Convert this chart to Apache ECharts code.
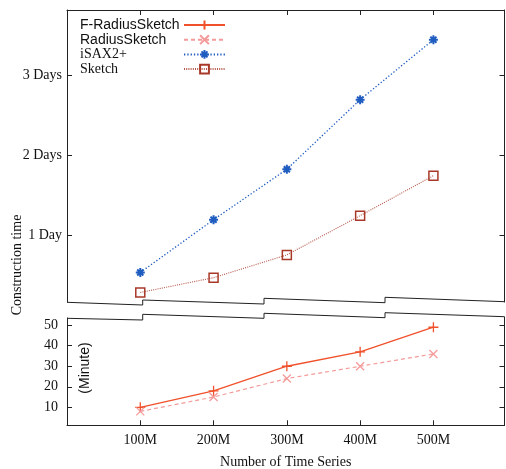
<!DOCTYPE html>
<html><head><meta charset="utf-8">
<script src="https://cdn.jsdelivr.net/npm/echarts@6/dist/echarts.min.js"></script>
<style>html,body{margin:0;padding:0;background:#fff}#c{width:506px;height:469px}</style>
</head><body><div id="c"></div>
<script>
// ---- data ----
const categories = [100, 200, 300, 400, 500]; // number of time series (millions)
const xTickLabels = ['100M', '200M', '300M', '400M', '500M'];
const fRadiusMinutes = [10, 18, 30, 37, 49];
const radiusMinutes = [8, 15, 24, 30, 36];
const isaxDays = [0.54, 1.2, 1.83, 2.7, 3.45];
const sketchDays = [0.29, 0.475, 0.76, 1.25, 1.75];
const dayTicks = [1, 2, 3];
const dayTickLabels = ['1 Day', '2 Days', '3 Days'];
const minuteTicks = [10, 20, 30, 40, 50];
const seriesNames = ['F-RadiusSketch', 'RadiusSketch', 'iSAX2+', 'Sketch'];

// ---- layout ----
const W = 506, H = 469;
const L = 67, RX = 504.5;
const topGrid = { top: 10, bottomY: 302 };
const botGrid = { top: 318, bottomY: 425.3 };
const SERIF = 'Liberation Serif', SANS = 'Liberation Sans';
const AX = '#222';

const pairs = (ys) => categories.map((c, i) => [c, ys[i]]);

const chart = echarts.init(document.getElementById('c'), null, { renderer: 'canvas' });

function yAx(grid, pos, min, max, ticks, labels, margin) {
  return {
    type: 'value', gridIndex: grid, position: pos, min: min, max: max,
    splitLine: { show: false },
    axisLine: { show: true, onZero: false, lineStyle: { color: AX, width: 1 } },
    axisTick: { show: true, inside: true, length: 5, customValues: ticks, lineStyle: { color: AX } },
    axisLabel: labels ? {
      show: true, customValues: ticks, margin: margin,
      fontFamily: SERIF, fontSize: 14, color: '#111',
      formatter: (v) => { const i = ticks.indexOf(v); return i >= 0 && labels[i] !== undefined ? labels[i] : String(v); }
    } : { show: false }
  };
}

const cRed = '#f0502a', cPink = '#f49a9a', cBlue = '#1f5cbf', cBrown = '#a83828';
const plusPath = 'path://M0,5L10,5M5,0L5,10';
const xPath = 'path://M0,0L10,10M10,0L0,10';
const starPath = 'path://M0,5L10,5M5,0L5,10M1.6,1.6L8.4,8.4M8.4,1.6L1.6,8.4';

const option = {
  animation: false,
  backgroundColor: '#fff',
  grid: [
    { left: L, right: W - RX, top: topGrid.top, height: topGrid.bottomY - topGrid.top, outerBoundsMode: 'none', containLabel: false },
    { left: L, right: W - RX, top: botGrid.top, height: botGrid.bottomY - botGrid.top, outerBoundsMode: 'none', containLabel: false }
  ],
  xAxis: [
    { type: 'value', gridIndex: 0, position: 'top', min: 0, max: 597,
      splitLine: { show: false },
      axisLine: { show: true, onZero: false, lineStyle: { color: AX } },
      axisTick: { show: true, inside: true, length: 5, customValues: categories, lineStyle: { color: AX } },
      axisLabel: { show: false } },
    { type: 'value', gridIndex: 1, position: 'bottom', min: 0, max: 597,
      splitLine: { show: false },
      axisLine: { show: true, onZero: false, lineStyle: { color: AX } },
      axisTick: { show: true, inside: true, length: 5, customValues: categories, lineStyle: { color: AX } },
      axisLabel: { show: true, customValues: categories, margin: 8, fontFamily: SERIF, fontSize: 14, color: '#111',
        formatter: (v) => { const i = categories.indexOf(v); return i >= 0 ? xTickLabels[i] : ''; } },
      name: 'Number of Time Series', nameLocation: 'middle', nameGap: 30,
      nameTextStyle: { fontFamily: SERIF, fontSize: 14, color: '#111' } }
  ],
  yAxis: [
    yAx(0, 'left', 0.171, 3.821, dayTicks, dayTickLabels, 5),
    yAx(0, 'right', 0.171, 3.821, dayTicks, null, 5),
    yAx(1, 'left', 1.23, 53.5, minuteTicks, minuteTicks.map(String), 9),
    yAx(1, 'right', 1.23, 53.5, minuteTicks, null, 9)
  ],
  legend: {
    orient: 'vertical', left: 80, top: 18, padding: 0, align: 'right',
    itemWidth: 41, itemHeight: 11, itemGap: 0.7,
    data: seriesNames,
    formatter: (n) => (seriesNames.indexOf(n) < 2 ? '{s|' + n + '}' : '{t|' + n + '}'),
    textStyle: {
      lineHeight: 14,
      rich: {
        s: { fontFamily: SANS, fontSize: 14, color: '#111', width: 99, lineHeight: 14, align: 'left' },
        t: { fontFamily: SERIF, fontSize: 14, color: '#111', width: 99, lineHeight: 14, align: 'left' }
      }
    }
  },
  graphic: [
    { type: 'polyline', silent: true, z: 100,
      shape: { points: [[L, 302.3], [142.7, 305], [142.7, 300], [264, 304], [264, 298.3], [385, 302.7], [385, 297.3], [RX, 301.7], [RX, 302]] },
      style: { stroke: AX, lineWidth: 1, fill: null } },
    { type: 'polyline', silent: true, z: 100,
      shape: { points: [[L, 318.3], [142.7, 320], [142.7, 314.3], [264, 318.3], [264, 313.3], [385, 317.7], [385, 312.7], [RX, 316.7], [RX, 318.5]] },
      style: { stroke: AX, lineWidth: 1, fill: null } },
    { type: 'text', silent: true, x: 17, y: 265, rotation: Math.PI / 2,
      style: { text: 'Construction time', font: '14px "Liberation Serif"', fill: '#111', align: 'center', verticalAlign: 'middle' } },
    { type: 'text', silent: true, x: 85, y: 368, rotation: Math.PI / 2,
      style: { text: '(Minute)', font: '14px "Liberation Sans"', fill: '#111', align: 'center', verticalAlign: 'middle' } }
  ],
  series: [
    { name: seriesNames[0], type: 'line', xAxisIndex: 1, yAxisIndex: 2, data: pairs(fRadiusMinutes),
      symbol: plusPath, symbolSize: 10,
      lineStyle: { color: cRed, width: 1.3, type: 'solid' },
      itemStyle: { color: 'rgba(0,0,0,0)', borderColor: cRed, borderWidth: 1.3 } },
    { name: seriesNames[1], type: 'line', xAxisIndex: 1, yAxisIndex: 2, data: pairs(radiusMinutes),
      symbol: xPath, symbolSize: 8,
      lineStyle: { color: cPink, width: 1.2, type: [4, 3] },
      itemStyle: { color: 'rgba(0,0,0,0)', borderColor: cPink, borderWidth: 1.3 } },
    { name: seriesNames[2], type: 'line', xAxisIndex: 0, yAxisIndex: 0, data: pairs(isaxDays),
      symbol: starPath, symbolSize: 9,
      lineStyle: { color: cBlue, width: 1.3, type: [1.3, 2] },
      itemStyle: { color: 'rgba(0,0,0,0)', borderColor: cBlue, borderWidth: 2 } },
    { name: seriesNames[3], type: 'line', xAxisIndex: 0, yAxisIndex: 0, data: pairs(sketchDays),
      symbol: 'rect', symbolSize: 9,
      lineStyle: { color: cBrown, width: 1.1, type: [1, 1.2], opacity: 0.85 },
      itemStyle: { color: 'rgba(255,255,255,0)', borderColor: cBrown, borderWidth: 1.5 } }
  ]
};
chart.setOption(option);
</script></body></html>
